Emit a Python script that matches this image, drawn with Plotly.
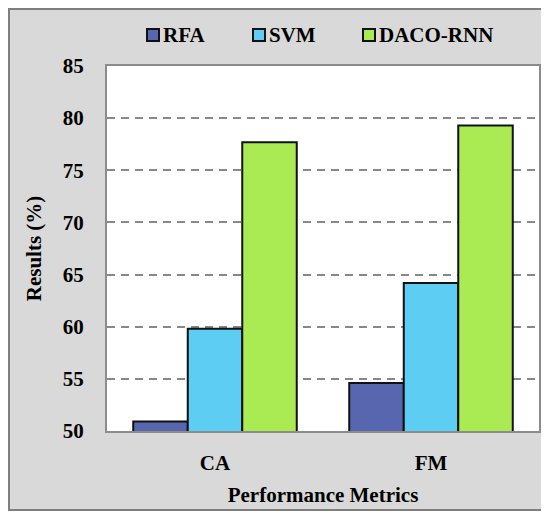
import plotly.graph_objects as go

categories = ["CA", "FM"]
series_names = ["RFA", "SVM", "DACO-RNN"]
rfa = [50.9, 54.6]
svm = [59.8, 64.2]
daco = [77.7, 79.3]
series_values = [rfa, svm, daco]
colors = ["#5865AF", "#5DCDF3", "#AAEA53"]
y_ticks = [50, 55, 60, 65, 70, 75, 80, 85]

# page offset of the figure (default body margin)
OFF = 8
W, H = 541, 503
# plot area in page pixels: x 107..539, y 66..431
L, R, T, B = 107 - OFF, W - (539 - OFF), 66 - OFF, H - (431 - OFF)
PW, PH = W - L - R, H - T - B

def px_x(p):
    return (p - OFF - L) / PW

def px_y(p):
    return (H - B - (p - OFF)) / PH

FONT = "'Times New Roman', 'Liberation Serif', Tinos, serif"
FS = 21

fig = go.Figure()
for name, vals, col in zip(series_names, series_values, colors):
    fig.add_trace(go.Bar(
        x=categories, y=vals, name=name, base=0,
        marker=dict(color=col, line=dict(color="#111111", width=2)),
        showlegend=False,
    ))

shapes = []
annotations = []
# outer border
shapes.append(dict(type="rect", xref="paper", yref="paper",
                   x0=px_x(OFF + 1), x1=px_x(560), y0=px_y(OFF + H - 1), y1=px_y(OFF + 1),
                   line=dict(color="#7f7f7f", width=2), fillcolor="rgba(0,0,0,0)", layer="below"))
# manual legend
legend_x = [147, 253, 363]
for name, col, lx in zip(series_names, colors, legend_x):
    shapes.append(dict(type="rect", xref="paper", yref="paper",
                       x0=px_x(lx), x1=px_x(lx + 12), y0=px_y(41), y1=px_y(29),
                       line=dict(color="#111111", width=2), fillcolor=col))
    annotations.append(dict(text="<b>%s</b>" % name, xref="paper", yref="paper",
                            x=px_x(lx + 14), y=px_y(35), xanchor="left", yanchor="middle",
                            showarrow=False, font=dict(family=FONT, size=FS, color="#000")))

fig.update_layout(
    width=W, height=H,
    margin=dict(l=L, r=R, t=T, b=B, autoexpand=False),
    paper_bgcolor="#D9D9D9",
    plot_bgcolor="#FFFFFF",
    barmode="group",
    bargap=0.243,
    bargroupgap=0,
    showlegend=False,
    shapes=shapes,
    annotations=annotations,
    font=dict(family=FONT, size=FS, color="#000"),
)
fig.update_xaxes(
    showline=True, linecolor="#8C8C8C", linewidth=2, mirror=True,
    ticks="", showgrid=False, automargin=False,
    tickfont=dict(family=FONT, size=FS, color="#000"),
    ticktext=["<b>%s</b>" % c for c in categories], tickvals=categories,
    ticklabelstandoff=12,
    title=dict(text="<b>Performance Metrics</b>", font=dict(family=FONT, size=FS), standoff=13),
)
fig.update_yaxes(
    range=[50, 85], tickvals=y_ticks, ticktext=["<b>%d</b>" % v for v in y_ticks],
    showline=True, linecolor="#8C8C8C", linewidth=2, mirror=True,
    ticks="", showgrid=True, gridcolor="#888888", gridwidth=2, griddash="8px,6px",
    zeroline=False, automargin=False,
    tickfont=dict(family=FONT, size=FS, color="#000"),
    ticklabelstandoff=17,
    title=dict(text="<b>Results (%)</b>", font=dict(family=FONT, size=FS), standoff=15),
)

fig.write_html("out.html")
